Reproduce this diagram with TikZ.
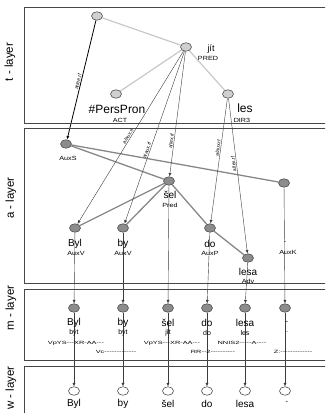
\documentclass[tikz,border=0pt]{standalone}
\usepackage{fontspec}
\setmainfont{Liberation Sans}
\newfontfamily\tagfont[FakeStretch=1.6]{Liberation Sans}
\newfontfamily\funcfont[FakeStretch=1.2]{Liberation Sans}
\usepackage{tikz}
\usetikzlibrary{shapes.geometric, arrows.meta, backgrounds}
\definecolor{tfill}{RGB}{208, 208, 208}
\definecolor{afill}{RGB}{140, 140, 140}
\definecolor{outline}{RGB}{80, 80, 80}
\definecolor{tline}{RGB}{200, 200, 200}
\definecolor{aline}{RGB}{135, 135, 135}
\definecolor{refline}{RGB}{60, 60, 60}
\definecolor{boxline}{RGB}{70, 70, 70}

\begin{document}
\begin{tikzpicture}[x=1pt, y=-1pt,
  tnode/.style={ellipse, draw=outline, fill=tfill, line width=0.6pt, minimum width=11pt, minimum height=8.5pt, inner sep=0pt},
  anode/.style={tnode, fill=afill},
  wnode/.style={tnode, fill=white},
  formlabel/.style={inner sep=0pt, font=\fontsize{10}{11}\selectfont},
  funclabel/.style={inner sep=0pt, font=\funcfont\fontsize{6}{7}\selectfont},
  lemmalabel/.style={inner sep=0pt, font=\fontsize{7}{8}\selectfont},
  taglabel/.style={inner sep=0pt, font=\tagfont\fontsize{4.6}{5}\selectfont},
  layername/.style={rotate=90, inner sep=0pt, font=\fontsize{11.5}{12}\selectfont},
  layerbox/.style={draw=boxline, line width=1pt},
  tedge/.style={draw=tline, line width=1.2pt},
  aedge/.style={draw=aline, line width=1.3pt},
  refarrow/.style={draw=refline, line width=0.4pt, -{Latex[length=3.5pt, width=3pt]}},
  reftext/.style={sloped, above, inner sep=0.8pt, font=\fontsize{5}{6}\selectfont}]

  \useasboundingbox (0, 0) rectangle (325, 413);
  \clip (0, 0) rectangle (325, 413);

  % layers
  \draw[layerbox] (24, 7) rectangle (340, 123);
  \draw[layerbox] (24, 128) rectangle (340, 283);
  \draw[layerbox] (24, 289) rectangle (340, 360);
  \draw[layerbox] (24, 366) rectangle (340, 430);

  \node[layername] (tname) at (10, 62) {t - layer};
  \node[layername] (aname) at (11, 198) {a - layer};
  \node[layername] (mname) at (11, 308) {m - layer};
  \node[layername] (wname) at (11, 388) {w - layer};

  % t-layer
  \node[tnode] (troot) at (97, 16) {};
  \node[tnode] (tjit) at (186, 47) {};
  \node[tnode] (tpers) at (116, 94) {};
  \node[tnode] (tles) at (228, 94) {};

  \node[formlabel, font=\fontsize{9}{10}\selectfont] (tjitf) at (211, 49) {jít};
  \node[funclabel] (tjitfn) at (208, 58) {PRED};
  \node[formlabel, font=\fontsize{12}{13}\selectfont] (tpersf) at (117, 109) {\#PersPron};
  \node[funclabel] (tpersfn) at (120, 120) {ACT};
  \node[formlabel, font=\fontsize{12}{13}\selectfont] (tlesf) at (245, 108) {les};
  \node[funclabel] (tlesfn) at (242, 120) {DIR3};

  % a-layer
  \node[anode] (aroot) at (66, 144) {};
  \node[anode] (asel) at (169, 181) {};
  \node[anode] (aauxk) at (284, 183) {};
  \node[anode] (abyl) at (75, 228) {};
  \node[anode] (aby) at (123, 228) {};
  \node[anode] (ado) at (210, 228) {};
  \node[anode] (alesa) at (248, 258) {};

  \node[funclabel] (arootfn) at (68, 158) {AuxS};
  \node[formlabel] (aself) at (170, 195) {šel};
  \node[funclabel] (aselfn) at (170, 205) {Pred};
  \node[formlabel] (abylf) at (75, 244) {Byl};
  \node[funclabel] (abylfn) at (76, 253) {AuxV};
  \node[formlabel] (abyf) at (123, 244) {by};
  \node[funclabel] (abyfn) at (123, 253) {AuxV};
  \node[formlabel] (adof) at (210, 244) {do};
  \node[funclabel] (adofn) at (210, 253) {AuxP};
  \node[formlabel] (aauxkf) at (285, 242) {.};
  \node[funclabel] (aauxkfn) at (288, 252) {AuxK};
  \node[formlabel] (alesaf) at (248, 272) {lesa};
  \node[funclabel] (alesafn) at (248, 281) {Adv};

  % m-layer
  \node[anode] (mbyl) at (74, 308) {};
  \node[anode] (mby) at (123, 308) {};
  \node[anode] (msel) at (168, 308) {};
  \node[anode] (mdo) at (207, 308) {};
  \node[anode] (mlesa) at (245, 308) {};
  \node[anode] (mdot) at (285, 308) {};

  \node[formlabel] (mbylf) at (74, 323) {Byl};
  \node[formlabel] (mbyf) at (123, 323) {by};
  \node[formlabel] (mself) at (168, 323) {šel};
  \node[formlabel] (mdof) at (207, 323) {do};
  \node[formlabel] (mlesaf) at (245, 323) {lesa};
  \node[formlabel] (mdotf) at (287, 322) {.};

  \node[lemmalabel] (mbylm) at (74, 333) {být};
  \node[lemmalabel] (mbym) at (123, 333) {být};
  \node[lemmalabel] (mselm) at (168, 333) {jít};
  \node[lemmalabel] (mdom) at (207, 333) {do};
  \node[lemmalabel] (mlesam) at (245, 333) {les};
  \node[lemmalabel] (mdotm) at (287, 332) {.};

  \node[taglabel] (mbylt) at (76, 343) {VpYS---XR-AA---};
  \node[taglabel] (mbyt) at (116, 352) {Vc-------------};
  \node[taglabel] (mselt) at (172, 343) {VpYS---XR-AA---};
  \node[taglabel] (mdot2) at (213, 352) {RR--2----------};
  \node[taglabel] (mlesat) at (242, 343) {NNIS2-----A----};
  \node[taglabel] (mdott) at (293, 352) {Z:-------------};

  % w-layer
  \node[wnode] (wbyl) at (74, 391) {};
  \node[wnode] (wby) at (123, 391) {};
  \node[wnode] (wsel) at (168, 391) {};
  \node[wnode] (wdo) at (207, 391) {};
  \node[wnode] (wlesa) at (245, 391) {};
  \node[wnode] (wdot) at (285, 391) {};

  \node[formlabel] (wbylf) at (74, 404) {Byl};
  \node[formlabel] (wbyf) at (123, 404) {by};
  \node[formlabel] (wself) at (168, 404) {šel};
  \node[formlabel] (wdof) at (207, 404) {do};
  \node[formlabel] (wlesaf) at (245, 404) {lesa};
  \node[formlabel] (wdotf) at (287, 402) {.};

  \begin{pgfonlayer}{background}
    \draw[tedge] (troot) -- (tjit);
    \draw[tedge] (tjit) -- (tpers);
    \draw[tedge] (tjit) -- (tles);

    \draw[aedge] (aroot) -- (aauxk);
    \draw[aedge] (aroot) -- (asel);
    \draw[aedge] (asel) -- (abyl);
    \draw[aedge] (asel) -- (aby);
    \draw[aedge] (asel) -- (ado);
    \draw[aedge] (ado) -- (alesa);

    \draw[refarrow, draw=black, line width=0.8pt] (troot) -- node[reftext, pos=0.52] {atree.rf} (aroot);
    \draw[refarrow] (tjit) -- node[reftext, pos=0.5] {a/aux.rf} (abyl);
    \draw[refarrow] (tjit) -- node[reftext, pos=0.58] {a/aux.rf} (aby);
    \draw[refarrow] (tjit) -- node[reftext, pos=0.72] {a/lex.rf} (asel);
    \draw[refarrow] (tles) -- node[reftext, pos=0.4] {a/aux.rf} (ado);
    \draw[refarrow, {Latex[length=3.5pt, width=3pt]}-] (alesa) -- node[reftext, allow upside down, pos=0.58] {a/lex.rf} (tles);

    \foreach \src/\dst in {abyl/mbyl, aby/mby, asel/msel, ado/mdo, alesa/mlesa, aauxk/mdot}
      \draw[refarrow] (\src) -- (\dst);
    \foreach \src/\dst in {mbyl/wbyl, mby/wby, msel/wsel, mdo/wdo, mlesa/wlesa, mdot/wdot}
      \draw[refarrow] (\src) -- (\dst);
  \end{pgfonlayer}

\end{tikzpicture}
\end{document}
